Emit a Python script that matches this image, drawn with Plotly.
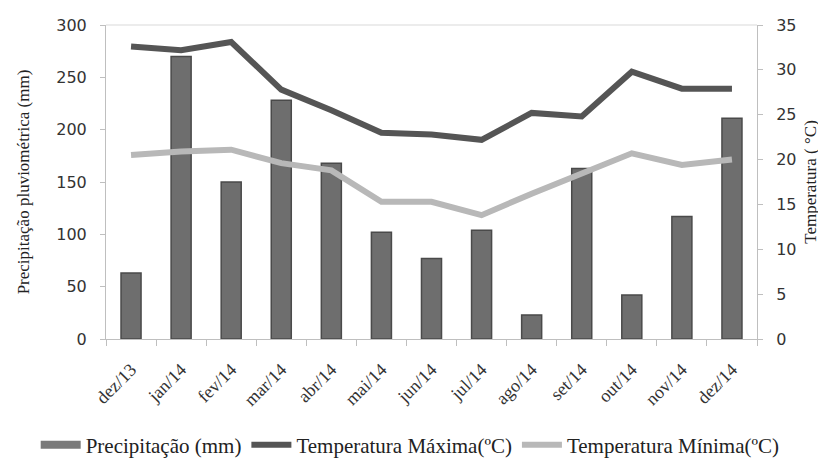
import plotly.graph_objects as go

months = ["dez/13", "jan/14", "fev/14", "mar/14", "abr/14", "mai/14", "jun/14",
          "jul/14", "ago/14", "set/14", "out/14", "nov/14", "dez/14"]
precip = [63, 270, 150, 228, 168, 102, 77, 104, 23, 163, 42, 117, 211]
tmax = [32.6, 32.2, 33.1, 27.8, 25.5, 23.0, 22.8, 22.2, 25.2, 24.8, 29.8, 27.9, 27.9]
tmin = [20.5, 20.9, 21.1, 19.6, 18.8, 15.3, 15.3, 13.8, 16.2, 18.5, 20.7, 19.4, 20.0]

serif = "Liberation Serif, Times New Roman, serif"
sans = "DejaVu Sans, sans-serif"

fig = go.Figure()
fig.add_trace(go.Bar(
    x=months, y=precip, name="Precipitação (mm)", width=0.4, showlegend=False,
    marker=dict(color="#6e6e6e", line=dict(color="#4a4a4a", width=1.5)),
    yaxis="y"))
# legend entry drawn as a wide bar-like stroke
fig.add_trace(go.Scatter(
    x=[months[0]], y=[None], name="Precipitação (mm)", mode="lines",
    line=dict(color="#7a7a7a", width=8), yaxis="y"))
fig.add_trace(go.Scatter(
    x=months, y=tmax, name="Temperatura Máxima(ºC)", mode="lines",
    line=dict(color="#555555", width=6), yaxis="y2"))
fig.add_trace(go.Scatter(
    x=months, y=tmin, name="Temperatura Mínima(ºC)", mode="lines",
    line=dict(color="#b8b8b8", width=6), yaxis="y2"))

fig.update_layout(
    width=826, height=461,
    margin=dict(l=98, r=77, t=17, b=130, autoexpand=False),
    paper_bgcolor="white", plot_bgcolor="white",
    showlegend=True,
    legend=dict(orientation="h", x=-0.108, xanchor="left",
                y=-0.3376, yanchor="middle",
                font=dict(family=serif, size=21, color="#222"),
                itemwidth=40, tracegroupgap=0),
    xaxis=dict(tickangle=-45, tickfont=dict(family=serif, size=18, color="#333"),
               showline=True, linecolor="#bfbfbf", linewidth=1, automargin=False,
               ticks="outside", tickson="boundaries", ticklen=6, tickcolor="#bfbfbf",
               ticklabelstandoff=12,
               showgrid=False, range=[-0.5, 12.5]),
    yaxis=dict(range=[0, 300], dtick=50, tickfont=dict(family=sans, size=16, color="#333"),
               showline=True, linecolor="#bfbfbf", ticks="outside", ticklen=5,
               tickcolor="#bfbfbf", showgrid=False, zeroline=False, automargin=False,
               ticklabelstandoff=10,
               title=dict(text="Precipitação pluviométrica (mm)",
                          font=dict(family=serif, size=17, color="#222"), standoff=22)),
    yaxis2=dict(range=[0, 35], dtick=5, overlaying="y", side="right",
                tickfont=dict(family=sans, size=16, color="#333"),
                showline=True, linecolor="#bfbfbf", ticks="outside", ticklen=5,
                tickcolor="#bfbfbf", showgrid=False, zeroline=False, automargin=False,
                ticklabelstandoff=10,
                title=dict(text="Temperatura ( °C)",
                           font=dict(family=serif, size=17, color="#222"), standoff=8)),
    shapes=[dict(type="line", xref="paper", yref="paper", x0=0, x1=1, y0=1, y1=1,
                 line=dict(color="#d9d9d9", width=1))],
)

fig.write_html("out.html")
